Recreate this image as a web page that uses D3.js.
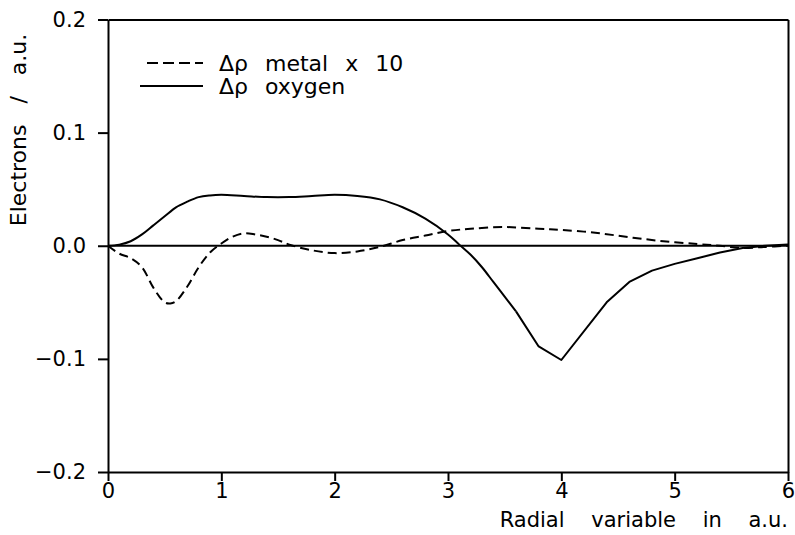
<!DOCTYPE html>
<html>
<head>
<meta charset="utf-8">
<script src="https://cdn.jsdelivr.net/npm/d3@7"></script>
<style>
  body { margin: 0; background: white; }
  #chart text { font-family: "DejaVu Sans", sans-serif; fill: black; }
  #chart .axis path, #chart .axis line { stroke: black; stroke-width: 2px; }
  #chart .axis text { font-size: 21px; }
</style>
</head>
<body>
<div id="chart"></div>
<script>
// radial variable (a.u.) and delta rho values
var oxygen_r = [0, 0.1, 0.2, 0.3, 0.4, 0.5, 0.6, 0.7, 0.8, 0.9, 1.0, 1.2, 1.4, 1.6, 1.8, 2.0, 2.2, 2.4, 2.6, 2.8, 3.0, 3.1, 3.2, 3.3, 3.4, 3.5, 3.6, 3.8, 4.0, 4.4, 4.6, 4.8, 5.0, 5.2, 5.4, 5.6, 5.8, 6.0];
var oxygen_v = [0, 0.001, 0.004, 0.010, 0.018, 0.026, 0.034, 0.039, 0.043, 0.0445, 0.045, 0.044, 0.043, 0.043, 0.044, 0.045, 0.044, 0.041, 0.034, 0.024, 0.010, 0.001, -0.008, -0.019, -0.032, -0.045, -0.058, -0.089, -0.101, -0.050, -0.032, -0.022, -0.016, -0.011, -0.006, -0.002, 0.000, 0.001];

var metal_r = [0, 0.1, 0.2, 0.3, 0.4, 0.5, 0.55, 0.6, 0.7, 0.8, 0.9, 1.0, 1.1, 1.2, 1.3, 1.4, 1.5, 1.6, 1.8, 2.0, 2.2, 2.4, 2.6, 2.8, 3.0, 3.2, 3.5, 3.8, 4.0, 4.3, 4.6, 4.9, 5.2, 5.4, 5.6, 5.8, 6.0];
var metal_v = [0, -0.007, -0.011, -0.019, -0.037, -0.050, -0.051, -0.049, -0.036, -0.019, -0.006, 0.002, 0.008, 0.011, 0.010, 0.008, 0.005, 0.001, -0.004, -0.0065, -0.005, -0.001, 0.005, 0.009, 0.013, 0.015, 0.0165, 0.015, 0.014, 0.0115, 0.0075, 0.004, 0.0015, 0.000, -0.002, -0.001, 0.000];

var x_ticks = [0, 1, 2, 3, 4, 5, 6];
var y_ticks = [-0.2, -0.1, 0.0, 0.1, 0.2];
var legend_labels = ["\u0394\u03c1 metal x 10", "\u0394\u03c1 oxygen"];

var width = 795, height = 535;
// plot box in pixels ("top" is taken by window.top, hence the prefix)
var box_left = 108, box_right = 788, box_top = 19.5, box_bottom = 472;

var svg = d3.select("#chart").append("svg")
  .attr("width", width)
  .attr("height", height);

var x = d3.scaleLinear().domain([0, 6]).range([box_left, box_right]);
var y = d3.scaleLinear().domain([-0.2, 0.2]).range([box_bottom, box_top]);

// frame: top and right without ticks
svg.append("g").attr("class", "axis")
  .attr("transform", "translate(0," + box_top + ")")
  .call(d3.axisTop(x).tickValues([]).tickSizeOuter(0));
svg.append("g").attr("class", "axis")
  .attr("transform", "translate(" + box_right + ",0)")
  .call(d3.axisRight(y).tickValues([]).tickSizeOuter(0));

svg.append("g").attr("class", "axis")
  .attr("transform", "translate(0," + box_bottom + ")")
  .call(d3.axisBottom(x).tickValues(x_ticks).tickFormat(d3.format("d"))
    .tickSize(9).tickPadding(2).tickSizeOuter(0));

svg.append("g").attr("class", "axis")
  .attr("transform", "translate(" + box_left + ",0)")
  .call(d3.axisLeft(y).tickValues(y_ticks).tickFormat(d3.format(".1f"))
    .tickSize(10).tickPadding(12).tickSizeOuter(0));

// zero line
svg.append("line")
  .attr("x1", x(0)).attr("x2", x(6))
  .attr("y1", y(0)).attr("y2", y(0))
  .attr("stroke", "black").attr("stroke-width", 2);

var oxygen = oxygen_r.map(function (r, i) { return [r, oxygen_v[i]]; });
var metal = metal_r.map(function (r, i) { return [r, metal_v[i]]; });

var line_lin = d3.line()
  .x(function (d) { return x(d[0]); })
  .y(function (d) { return y(d[1]); });
var line_smooth = d3.line()
  .curve(d3.curveCatmullRom)
  .x(function (d) { return x(d[0]); })
  .y(function (d) { return y(d[1]); });

// oxygen: smooth rise, then straight segments through the dip
var oxy_smooth = oxygen.filter(function (d) { return d[0] <= 3.6; });
var oxy_tail = oxygen.filter(function (d) { return d[0] >= 3.6; });

svg.append("path")
  .attr("d", line_smooth(oxy_smooth))
  .attr("fill", "none").attr("stroke", "black").attr("stroke-width", 2);
svg.append("path")
  .attr("d", line_lin(oxy_tail))
  .attr("fill", "none").attr("stroke", "black").attr("stroke-width", 2)
  .attr("stroke-linejoin", "round");

svg.append("path")
  .attr("d", line_smooth(metal))
  .attr("fill", "none").attr("stroke", "black").attr("stroke-width", 2)
  .attr("stroke-dasharray", "9,5");

// legend
var legend = svg.append("g");
[63, 86].forEach(function (ly, i) {
  legend.append("line")
    .attr("x1", i == 0 ? 147 : 140).attr("x2", 203)
    .attr("y1", ly).attr("y2", ly)
    .attr("stroke", "black").attr("stroke-width", 2)
    .attr("stroke-dasharray", i == 0 ? "11,5" : null);
  legend.append("text")
    .attr("x", 219).attr("y", ly + 8)
    .style("font-size", "22px")
    .style("word-spacing", "10px")
    .text(legend_labels[i]);
});

// axis titles
svg.append("text")
  .attr("x", box_right).attr("y", 527)
  .attr("text-anchor", "end")
  .style("font-size", "21px")
  .style("word-spacing", "20px")
  .text("Radial variable in a.u.");

svg.append("text")
  .attr("transform", "translate(26,130) rotate(-90)")
  .attr("text-anchor", "middle")
  .style("font-size", "22px")
  .style("word-spacing", "14px")
  .text("Electrons / a.u.");
</script>
</body>
</html>
